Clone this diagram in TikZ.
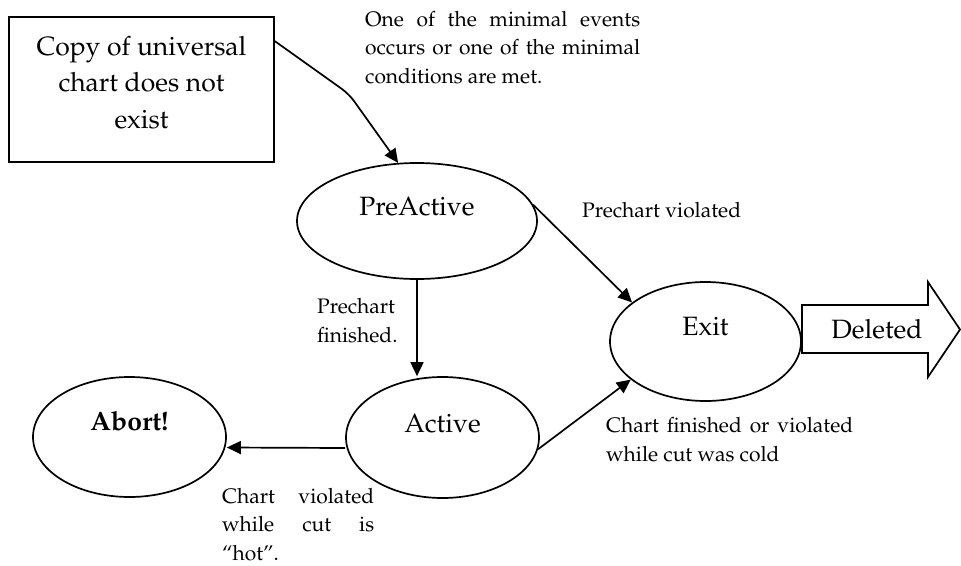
\documentclass[tikz,border=0pt]{standalone}
\usepackage[T1]{fontenc}
\usepackage{mathpazo}
\usetikzlibrary{shapes.geometric,arrows.meta}

\tikzset{
  bigtext/.style={font=\fontsize{26.5}{36.5}\selectfont, inner sep=0pt},
  note/.style={font=\fontsize{21}{28.5}\selectfont, inner sep=0pt, align=left, anchor=base west},
  state/.style={draw, ellipse, line width=1.7pt, inner sep=0pt},
  flow/.style={line width=1.7pt, -{Triangle[length=14pt,width=13pt]}},
  outline/.style={draw, line width=1.7pt},
}

\begin{document}
\begin{tikzpicture}[x=1pt,y=-1pt]
\useasboundingbox (0,0) rectangle (961,565);

% start box (multi-line nodes are anchored on the baseline of their last line)
\node[outline, rectangle, minimum width=265pt, minimum height=145pt, inner sep=0pt] (box) at (141.5,89.5) {};
\node[bigtext, align=center, anchor=base] (boxtext) at ([yshift=-38.5pt]box.center)
  {Copy of universal\\ chart does not\\ exist};

% states
\node[state, minimum width=240pt, minimum height=116pt] (pre) at (417,221) {};
\node[bigtext, anchor=base] (pretext) at ([yshift=6pt]pre.center) {PreActive};

\node[state, minimum width=191pt, minimum height=119pt] (exit) at (705.5,341.5) {};
\node[bigtext, anchor=base] (exittext) at ([yshift=6.5pt]exit.center) {Exit};

\node[state, minimum width=193pt, minimum height=121pt] (act) at (442.5,437.5) {};
\node[bigtext, anchor=base] (acttext) at ([yshift=5.5pt]act.center) {Active};

\node[state, minimum width=193pt, minimum height=120pt] (abort) at (129.5,437) {};
\node[bigtext, anchor=base] (aborttext) at ([yshift=7pt]abort.center) {\bfseries Abort!};

% block arrow leaving the exit state
\draw[outline, line join=miter] (802,305) -- (928,305) -- (928,282) -- (960,329.5)
  -- (928,377) -- (928,353) -- (802,353) -- cycle;
\node[bigtext, anchor=base] (deleted) at (877,338) {Deleted};

% transitions
\draw[flow, rounded corners=9pt] ([yshift=-25pt]box.north east) -- (349,94) -- (pre.108);
\draw[flow] (pre.south) -- (pre.south |- act.north);
\draw[flow] (pre.8) -- (exit.152);
\draw[flow] (act.-7) -- (exit.207);
\draw[flow] ([yshift=-10.5pt]act.west) -- ([yshift=-10.5pt]abort.east);

% transition labels, placed by the baseline of their last line
\node[note] (lstart) at (365,83)
  {\makebox[275pt][s]{One of the minimal events}\\
   \makebox[275pt][s]{occurs or one of the minimal}\\
   conditions are met.};
\node[note] (lviol) at (582,217) {Prechart violated};
\node[note] (lfin) at (317,342) {Prechart\\ finished.};
\node[note] (lhot) at (222,560)
  {\makebox[152pt][s]{Chart violated}\\
   \makebox[152pt][s]{while cut is}\\
   ``hot''.};
\node[note] (lcold) at (606,461)
  {\makebox[247pt][s]{Chart finished or violated}\\
   while cut was cold};
\end{tikzpicture}
\end{document}
